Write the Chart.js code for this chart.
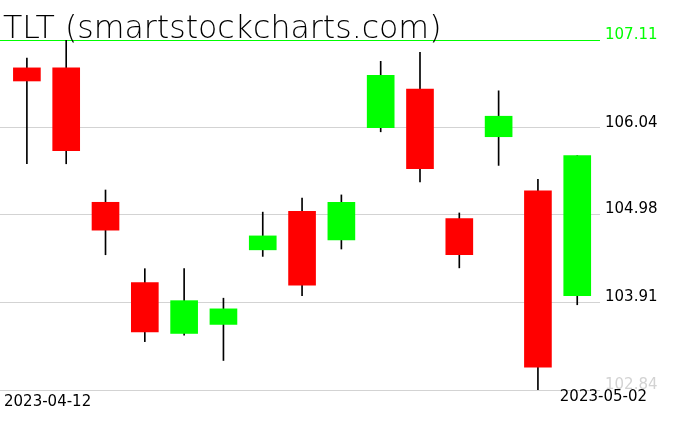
<!DOCTYPE html>
<html>
<head>
<meta charset="utf-8">
<script src="https://cdn.jsdelivr.net/npm/chart.js@4.4.0/dist/chart.umd.min.js"></script>
<style>
    html, body { margin: 0; padding: 0; background: #fff; }
</style>
</head>
<body>
<canvas id="tltChart" width="676" height="431"></canvas>
<script>
const dates = ['2023-04-12', '2023-04-13', '2023-04-14', '2023-04-17', '2023-04-18',
               '2023-04-19', '2023-04-20', '2023-04-21', '2023-04-24', '2023-04-25',
               '2023-04-26', '2023-04-27', '2023-04-28', '2023-05-01', '2023-05-02'];
const opens  = [106.77, 106.77, 105.13, 104.15, 103.53, 103.64, 104.55, 105.02, 104.67, 106.04, 106.51, 104.93, 105.93, 105.27, 103.99];
const highs  = [106.89, 107.11, 105.28, 104.32, 104.32, 103.96, 105.01, 105.18, 105.22, 106.85, 106.96, 105.00, 106.49, 105.41, 105.70];
const lows   = [105.60, 105.60, 104.49, 103.43, 103.51, 103.20, 104.47, 103.99, 104.56, 105.99, 105.38, 104.33, 105.58, 102.84, 103.88];
const closes = [106.61, 105.76, 104.79, 103.55, 103.93, 103.83, 104.72, 104.12, 105.13, 106.68, 105.54, 104.49, 106.18, 103.12, 105.70];
const yTicks = [102.84, 103.91, 104.98, 106.04, 107.11];
const dateLabels = ['2023-04-12', '2023-05-02'];
const chartTitle = 'TLT (smartstockcharts.com)';

const UP = '#00ff00';
const DOWN = '#ff0000';

// title and first/last date drawn straight onto the canvas
const overlayText = {
    id: 'overlayText',
    afterDraw(chart) {
        const ctx = chart.ctx;
        ctx.save();
        ctx.fillStyle = '#000';
        ctx.textBaseline = 'alphabetic';
        ctx.font = '200 31.6px "DejaVu Sans ExtraLight", "DejaVu Sans"';
        ctx.textAlign = 'left';
        ctx.fillText(chartTitle, 3, 38);
        ctx.font = '15px "DejaVu Sans"';
        ctx.fillText(dateLabels[0], 4, 406);
        ctx.textAlign = 'right';
        ctx.fillText(dateLabels[1], 647, 401);
        ctx.restore();
    }
};

function tickColour(value, top, bottom, other) {
    if (Math.abs(value - yTicks[yTicks.length - 1]) < 0.001) return top;
    if (Math.abs(value - yTicks[0]) < 0.001) return bottom;
    return other;
}

new Chart(document.getElementById('tltChart'), {
    type: 'bar',
    data: {
        datasets: [{
            label: 'body',
            data: dates.map((d, i) => ({ x: i, y: [opens[i], closes[i]] })),
            backgroundColor: dates.map((d, i) => closes[i] >= opens[i] ? UP : DOWN),
            borderWidth: 0,
            barThickness: 27,
            grouped: false
        }, {
            label: 'wick',
            data: dates.map((d, i) => ({ x: i, y: [lows[i], highs[i]] })),
            backgroundColor: '#000',
            borderWidth: 0,
            barThickness: 1,
            grouped: false
        }]
    },
    options: {
        responsive: false,
        animation: false,
        layout: { padding: { left: 0, top: 40, right: 0, bottom: 41 } },
        plugins: {
            legend: { display: false },
            tooltip: { enabled: false }
        },
        scales: {
            x: {
                type: 'linear',
                min: -0.684,
                max: 14.579,
                offset: false,
                display: false
            },
            y: {
                type: 'linear',
                position: 'right',
                min: yTicks[0],
                max: yTicks[yTicks.length - 1],
                z: 1,
                afterBuildTicks: scale => {
                    scale.ticks = yTicks.map(v => ({ value: v }));
                },
                afterFit: scale => { scale.width = 76; },
                border: { display: false },
                grid: {
                    drawTicks: false,
                    lineWidth: 1,
                    color: c => tickColour(c.tick.value, UP, '#d3d3d3', '#d3d3d3')
                },
                ticks: {
                    padding: 5,
                    labelOffset: -5,
                    font: { family: 'DejaVu Sans', size: 15 },
                    color: c => tickColour(c.tick.value, UP, '#d3d3d3', '#000'),
                    callback: v => v.toFixed(2)
                }
            }
        }
    },
    plugins: [overlayText]
});
</script>
</body>
</html>
